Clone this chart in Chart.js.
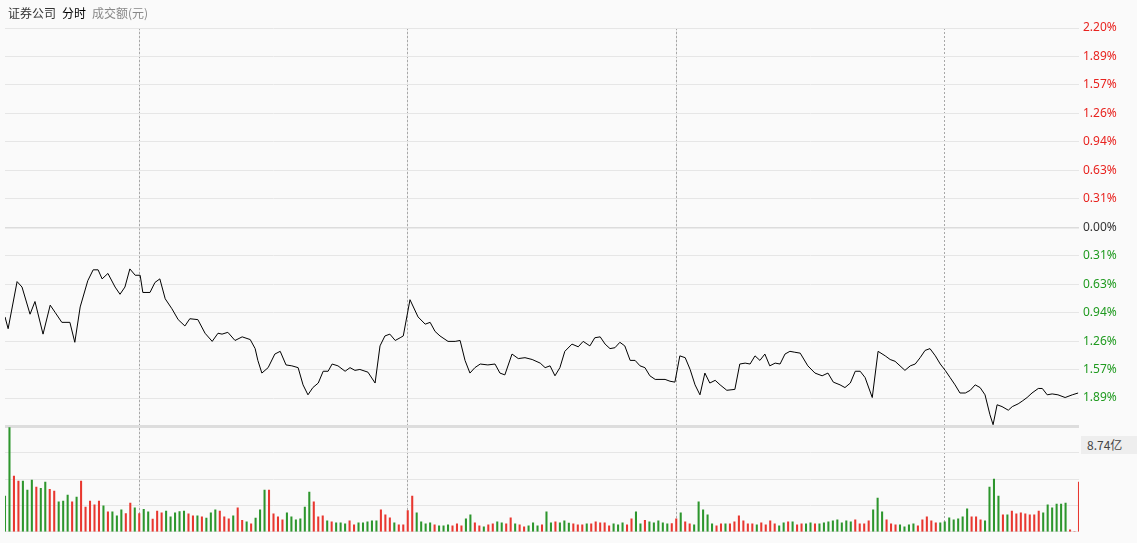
<!DOCTYPE html>
<html><head><meta charset="utf-8">
<script src="https://cdn.jsdelivr.net/npm/chart.js@4"></script>
<style>
html,body{margin:0;padding:0;background:#fafafa;width:1137px;height:543px;overflow:hidden;font-family:"Noto Sans CJK SC","Noto Sans",sans-serif}
#wrap{position:relative;width:1137px;height:543px}
#title{position:absolute;left:8px;top:4px;font-size:12px;color:#333;white-space:nowrap}
#title .b{color:#000;margin-left:6px}
#title .g{color:#888;margin-left:6px}
#vmax{position:absolute;left:1081px;top:436px;width:56px;height:18px;background:#eeeeee;color:#444;font-size:12px;line-height:18px;padding-left:6px;box-sizing:border-box}
</style></head><body>
<div id="wrap"><canvas id="c" width="1137" height="543"></canvas>
<div id="title">证券公司<span class="b">分时</span><span class="g">成交额(元)</span></div>
<div id="vmax">8.74亿</div></div>
<script>
const minutes=[0,0.7,2.7,3.8,5.6,6.7,8.5,10.1,11.2,12.7,14.5,15.6,16.8,18.5,19.7,20.8,21.7,23.0,24.6,25.7,26.8,27.9,29.1,30.2,30.8,32.4,33.5,34.6,35.8,37.3,38.7,40.2,41.3,43.1,44.7,46.3,47.6,48.5,49.8,51.4,53.0,54.8,55.9,56.5,57.4,58.8,60.3,61.5,62.8,64.1,65.5,66.6,67.7,68.8,70.0,71.1,72.2,73.1,74.4,76.0,77.1,78.2,79.3,81.1,82.7,83.8,84.9,86.0,87.2,88.3,89.0,90.5,92.3,93.9,95.0,96.1,97.2,99.0,100.6,101.7,102.8,103.9,105.0,106.2,107.9,109.5,110.6,111.7,113.3,114.7,116.2,117.8,119.6,120.7,121.8,122.9,124.0,125.1,126.7,128.1,129.2,130.7,131.8,133.0,134.1,135.2,136.3,137.4,138.5,139.7,140.8,141.9,143.0,144.1,145.3,147.5,148.6,149.7,150.8,152.0,153.1,154.2,155.3,156.4,157.5,158.7,159.8,161.3,163.1,164.2,165.4,166.5,167.6,168.7,169.8,170.9,172.1,173.2,174.3,175.4,176.5,177.7,179.4,181.0,182.6,183.9,185.1,186.6,187.7,188.9,190.0,191.1,192.2,193.8,195.1,196.7,197.8,198.9,200.0,201.1,202.3,203.4,204.5,205.6,206.7,207.9,209.0,210.1,211.2,212.3,213.4,214.6,215.7,216.8,217.9,219.0,220.1,220.8,221.7,222.8,224.2,225.1,226.4,227.3,228.4,229.5,230.9,231.8,232.9,234.0,235.3,236.9,238.5,239.8];
const pct=[-0.99,-1.12,-0.60,-0.66,-0.96,-0.82,-1.18,-0.86,-0.94,-1.05,-1.05,-1.27,-0.88,-0.59,-0.47,-0.47,-0.57,-0.51,-0.66,-0.74,-0.66,-0.46,-0.53,-0.53,-0.72,-0.72,-0.61,-0.57,-0.79,-0.90,-1.02,-1.09,-1.01,-1.02,-1.17,-1.26,-1.17,-1.18,-1.16,-1.25,-1.21,-1.24,-1.34,-1.47,-1.61,-1.55,-1.40,-1.37,-1.52,-1.53,-1.55,-1.74,-1.85,-1.77,-1.72,-1.59,-1.59,-1.51,-1.53,-1.59,-1.55,-1.58,-1.57,-1.60,-1.72,-1.31,-1.20,-1.18,-1.25,-1.22,-1.20,-0.80,-0.99,-1.07,-1.05,-1.15,-1.20,-1.26,-1.26,-1.25,-1.47,-1.61,-1.55,-1.51,-1.52,-1.51,-1.61,-1.63,-1.40,-1.45,-1.44,-1.46,-1.50,-1.55,-1.53,-1.64,-1.55,-1.37,-1.29,-1.32,-1.26,-1.31,-1.22,-1.21,-1.29,-1.34,-1.33,-1.27,-1.31,-1.47,-1.47,-1.53,-1.55,-1.64,-1.68,-1.68,-1.70,-1.71,-1.42,-1.44,-1.57,-1.74,-1.85,-1.61,-1.72,-1.69,-1.74,-1.80,-1.79,-1.51,-1.50,-1.51,-1.42,-1.47,-1.40,-1.53,-1.50,-1.51,-1.40,-1.37,-1.38,-1.39,-1.53,-1.61,-1.64,-1.61,-1.71,-1.74,-1.77,-1.72,-1.59,-1.59,-1.66,-1.88,-1.37,-1.42,-1.46,-1.48,-1.53,-1.58,-1.53,-1.51,-1.44,-1.36,-1.34,-1.42,-1.51,-1.58,-1.66,-1.74,-1.83,-1.83,-1.80,-1.74,-1.77,-1.85,-2.07,-2.18,-1.96,-1.98,-2.02,-1.98,-1.95,-1.92,-1.88,-1.83,-1.78,-1.78,-1.85,-1.84,-1.85,-1.88,-1.85,-1.83];
const volume=[2.97,8.66,4.62,4.21,4.21,3.47,4.29,3.71,3.60,4.13,3.52,3.38,2.48,2.56,3.05,2.48,2.89,4.21,2.06,2.56,2.23,2.56,2.15,1.65,1.65,1.32,1.82,1.51,2.39,1.98,1.51,1.87,1.65,1.05,1.73,1.57,1.73,1.24,1.57,1.68,1.73,1.49,1.32,1.32,1.24,1.13,1.57,1.82,1.73,1.24,1.07,1.32,1.98,0.96,0.83,0.66,1.13,1.82,3.47,3.47,1.49,1.24,0.99,1.57,1.24,0.99,1.07,2.06,3.30,2.48,1.24,1.32,0.91,0.83,0.74,0.74,0.66,0.91,0.58,0.74,0.74,0.83,0.91,0.91,1.82,1.40,1.16,0.74,0.58,0.58,1.76,2.97,1.57,0.83,0.66,0.74,0.58,0.50,0.50,0.58,0.50,0.66,0.50,1.07,1.40,0.74,0.50,0.41,0.58,0.66,0.83,0.74,0.66,1.16,0.66,0.58,0.41,0.50,0.74,0.50,0.58,1.65,0.74,0.83,0.74,
0.91,0.72,0.66,0.58,0.58,0.66,0.66,0.83,0.74,0.74,0.50,0.66,0.58,0.74,0.58,1.07,1.65,0.66,0.96,0.83,0.74,0.91,0.74,0.66,0.69,1.07,1.57,0.83,0.66,0.58,2.48,1.82,1.40,0.66,0.50,0.66,0.66,0.66,0.83,1.32,0.91,0.66,0.66,0.58,0.74,0.58,0.91,0.66,0.50,0.74,0.83,0.83,0.58,0.66,0.66,0.74,0.66,0.66,0.74,0.83,0.91,0.99,0.74,0.91,0.83,0.99,0.66,0.66,0.91,1.82,2.80,1.65,0.99,0.66,0.58,0.58,0.41,0.58,0.66,0.50,0.99,1.24,0.91,0.74,0.74,0.83,1.16,0.99,1.07,1.24,1.90,1.24,1.24,0.99,0.91,3.71,4.37,2.97,1.40,1.40,1.73,1.49,1.57,1.49,1.40,1.40,1.73,1.57,2.23,1.98,2.31,2.31,2.39,0.17,0,4.13];
const dir="ggrrgggrggrrgggrgrrrrrgrgggrrgrggrrrgggggrrgrgggrrrgrrgrgggrrrrggggggrrrgrgggrrgggggrrrgrrrrggggrgggrrrggrrgrrggrrgrrgggrggrggg"+
"rrrgrrrrrgggrrggrgggggrrgrrgggggrrgrrrrrrgrrrrggrgrrggrggggggggrrrrgggrrrggggrrrrrgggggggrrrggggrgrrrrrrrggggggrrr";
const pctTicks=[2.20,1.89,1.57,1.26,0.94,0.63,0.31,0.00,0.31,0.63,0.94,1.26,1.57,1.89,2.20];
const volMax=8.74;

const RED='#e8372f',GREEN='#2d962d';
const barColors=volume.map((v,i)=>dir[i]==='r'?RED:GREEN);
new Chart(document.getElementById('c'),{
 data:{datasets:[
  {type:'line',data:minutes.map((m,i)=>({x:m,y:pct[i]})),borderColor:'#000',borderWidth:1,pointRadius:0,tension:0,yAxisID:'y',xAxisID:'x',order:0},
  {type:'bar',data:volume.map((v,i)=>({x:i,y:v})),backgroundColor:barColors,barThickness:1.4,yAxisID:'yv',xAxisID:'x',order:1}
 ]},
 options:{responsive:false,animation:false,
  layout:{padding:{top:28,left:5,right:0,bottom:0}},
  plugins:{legend:{display:false},tooltip:{enabled:false}},
  scales:{
   x:{type:'linear',min:0,max:240,offset:false,
      ticks:{display:false,stepSize:60,autoSkip:false},border:{display:false},
      grid:{color:c=>(c.tick&&(c.tick.value===0||c.tick.value===240))?'rgba(0,0,0,0)':'#e4e4e4',lineWidth:1,drawTicks:false}},
   x2:{type:'linear',min:0,max:240,offset:false,display:true,
      afterBuildTicks:s=>{s.ticks=[30,90,150,210].map(v=>({value:v}));},
      ticks:{display:false,autoSkip:false},border:{display:false,dash:[2,2]},
      grid:{color:'#a8a8a8',lineWidth:1,drawTicks:false}},
   y:{position:'right',stack:'s',stackWeight:405,min:-2.2,max:2.2,
      afterBuildTicks:s=>{s.ticks=pctTicks.map((t,k)=>({value:2.2-k*2.2/7}));},
      afterFit:s=>{s.width=58;},
      border:{display:false},
      grid:{color:c=>c.index===7?'#dcdcdc':'#e6e6e6',lineWidth:c=>c.index===7?1.5:1,drawTicks:false},
      ticks:{autoSkip:false,padding:4,font:{size:12,family:'"Noto Sans","Liberation Sans",sans-serif'},
        color:c=>c.index<7?'#e8231f':(c.index===7?'#333':'#1f9a1f'),
        callback:(v,i)=>i===14?'':pctTicks[i].toFixed(2)+'%'}},
   yv:{position:'right',stack:'s',stackWeight:107,min:0,max:volMax,
      afterBuildTicks:s=>{s.ticks=[0,1,2,3,4].map(k=>({value:volMax*k/4}));},
      afterFit:s=>{s.width=58;},
      border:{display:false},
      grid:{color:c=>c.index===4?'#dddddd':'#e6e6e6',lineWidth:c=>c.index===4?3:1,drawTicks:false},
      ticks:{display:false,autoSkip:false}}
  }}
});
</script></body></html>
